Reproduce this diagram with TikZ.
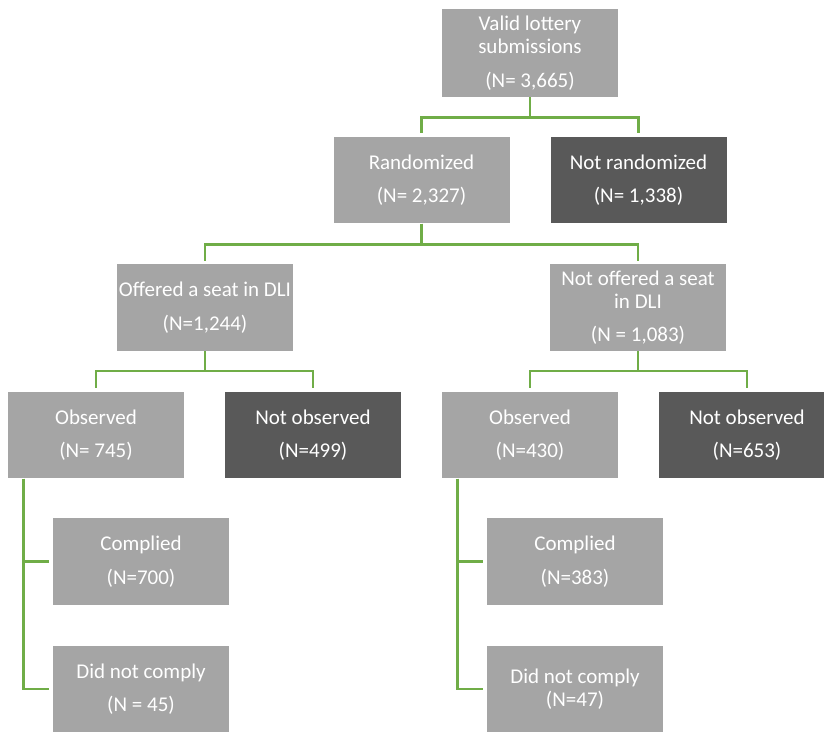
\documentclass[tikz,border=0pt]{standalone}
\usepackage{fontspec}
\setmainfont{Carlito}
\usepackage{xcolor}
\usetikzlibrary{positioning, calc}

\begin{document}
\begin{tikzpicture}[
  x=0.75pt, y=-0.75pt,
  font=\fontsize{15.75}{17.25}\selectfont,
  box/.style={fill=cGray, text=white, inner sep=0pt, align=center,
              minimum width=132pt, minimum height=65pt},
  darkbox/.style={box, fill=cDark},
  link/.style={draw=cGreen, line width=1.9pt, shorten >=2.5pt},
]
\definecolor{cGray}{HTML}{A5A5A5}   % light boxes
\definecolor{cDark}{HTML}{595959}   % dropped boxes
\definecolor{cGreen}{HTML}{70AD47}  % tree lines

\useasboundingbox (0,0) rectangle (824,732);

% ---------- top ----------
\node[box, minimum height=66pt] (valid) at (530,53)
  {Valid lottery\\submissions\\[8pt](N= 3,665)};

% ---------- randomization ----------
\node[box] (rand) at (421.5,180) {Randomized\\[8pt](N= 2,327)};
\node[darkbox] (notrand) at (638.5,180) {Not randomized\\[8pt](N= 1,338)};

% ---------- offer ----------
\node[box] (offered) at (205,307.5) {Offered a seat in DLI\\[8pt](N=1,244)};
\node[box] (notoffered) at (638,307.5)
  {Not offered a seat\\in DLI\\[8pt](N = 1,083)};

% ---------- observed ----------
\node[box] (obsA) at (96,435) {Observed\\[8pt](N= 745)};
\node[darkbox] (nobsA) at (313,435) {Not observed\\[8pt](N=499)};
\node[box] (obsB) at (530,435) {Observed\\[8pt](N=430)};
\node[darkbox] (nobsB) at (747,435) {Not observed\\[8pt](N=653)};

% ---------- compliance ----------
\node[box] (compA) at (141,561.5) {Complied\\[8pt](N=700)};
\node[box] (dncA) at (141,689) {Did not comply\\[8pt](N = 45)};
\node[box] (compB) at (575,561.5) {Complied\\[8pt](N=383)};
\node[box] (dncB) at (575,689) {Did not comply\\(N=47)};

% ---------- tree lines ----------
\draw[link] (valid.south) -- ++(0,20) -| (rand.north);
\draw[link] (valid.south) -- ++(0,20) -| (notrand.north);

\draw[link] (rand.south) -- ++(0,21) -| (offered.north);
\draw[link] (rand.south) -- ++(0,21) -| (notoffered.north);

\draw[link] (offered.south) -- ++(0,20) -| (obsA.north);
\draw[link] (offered.south) -- ++(0,20) -| (nobsA.north);
\draw[link] (notoffered.south) -- ++(0,20) -| (obsB.north);
\draw[link] (notoffered.south) -- ++(0,20) -| (nobsB.north);

\draw[link] ($(obsA.south west)+(16,0)$) |- (compA.west);
\draw[link] ($(obsA.south west)+(16,0)$) |- (dncA.west);
\draw[link] ($(obsB.south west)+(16,0)$) |- (compB.west);
\draw[link] ($(obsB.south west)+(16,0)$) |- (dncB.west);

\end{tikzpicture}
\end{document}
